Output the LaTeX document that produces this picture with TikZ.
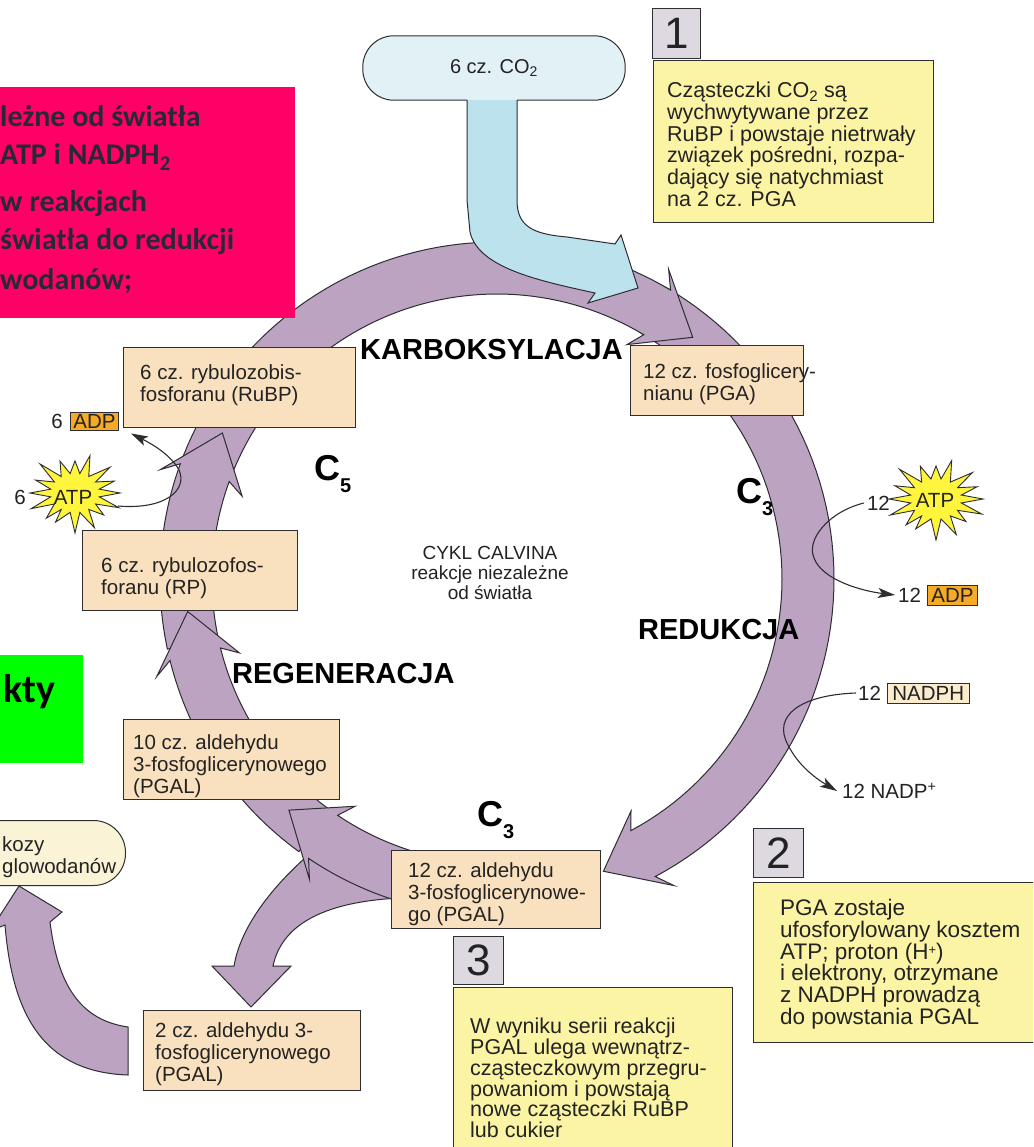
\documentclass[tikz,border=0pt]{standalone}
\usepackage{fontspec}
\setmainfont{Liberation Sans}
\newfontfamily\calib{Carlito}
\usetikzlibrary{arrows.meta}
\definecolor{ringc}{RGB}{188,163,194}
\definecolor{linec}{RGB}{45,45,50}
\definecolor{boxc}{RGB}{249,224,190}
\definecolor{yelc}{RGB}{251,244,165}
\definecolor{numc}{RGB}{222,216,224}
\definecolor{pinkc}{RGB}{255,0,102}
\definecolor{pinktxt}{RGB}{38,42,52}
\definecolor{greenc}{RGB}{0,255,0}
\definecolor{pillc}{RGB}{226,241,245}
\definecolor{stemc}{RGB}{188,226,238}
\definecolor{adpc}{RGB}{245,170,40}
\definecolor{nadphc}{RGB}{250,236,205}
\definecolor{glukc}{RGB}{250,243,214}
\definecolor{starc}{RGB}{255,245,60}
\definecolor{txtc}{RGB}{35,35,35}

% ring segment: start angle, arrow base angle, tip angle (clockwise on screen)
\newcommand\ringseg[3]{%
  \filldraw[ringsty]
    plot[domain=#1:#2,samples=60] ({497+337*cos(\x)},{579+337*sin(\x)})
    -- ({497+354*cos(#2-2)},{579+354*sin(#2-2)})
    -- ({497+311*cos(#3)},{579+311*sin(#3)})
    -- ({497+268*cos(#2-2)},{579+268*sin(#2-2)})
    -- plot[domain=#2:#1,samples=60] ({497+285*cos(\x)},{579+285*sin(\x)})
    -- cycle;}
% spiky star: cx, cy, rx, ry
\newcommand\spiky[4]{%
  \filldraw[starsty] plot[samples at={0,11.25,...,348.75}]
   ({#1+#3*(mod(round(\x/11.25),2)==0 ? 1+0.14*sin(7*\x) : 0.55)*cos(\x)},
    {#2+#4*(mod(round(\x/11.25),2)==0 ? 1+0.14*sin(5*\x+40) : 0.55)*sin(\x)}) -- cycle;}
\newcommand\lowsup[1]{\raisebox{5pt}{\fontsize{13}{13}\selectfont #1}}

\begin{document}
\begin{tikzpicture}[x=1pt,y=-1pt,
 ringsty/.style={fill=ringc,draw=linec,line width=1pt},
 bluesty/.style={fill=stemc,draw=linec,line width=1pt},
 pbox/.style={draw=linec,line width=1pt,fill=boxc,inner sep=0pt,anchor=north west},
 ybox/.style={draw=linec,line width=1pt,fill=yelc,inner sep=0pt,anchor=north west},
 nbox/.style={draw=linec,line width=1pt,fill=numc,inner sep=0pt,anchor=north west,font=\fontsize{44}{44}\selectfont,text=txtc},
 ptext/.style={anchor=north west,inner sep=0pt,align=left,text=txtc,font=\fontsize{20.5}{22}\selectfont},
 bold/.style={anchor=base west,inner sep=0pt,text=black,font=\bfseries\fontsize{29}{29}\selectfont},
 small/.style={inner sep=0pt,text=txtc,font=\fontsize{20.5}{22}\selectfont},
 thinarr/.style={draw=linec,line width=1.1pt,-{Stealth[length=17pt,width=10pt,inset=4pt]}},
 pinktx/.style={anchor=base west,inner sep=0pt,text=pinktxt,font=\calib\bfseries\fontsize{30}{30}\selectfont},
 bigc/.style={anchor=base west,inner sep=0pt,text=black,font=\bfseries\fontsize{36}{36}\selectfont},
 starsty/.style={fill=starc,draw=linec,line width=0.9pt,line join=miter}]
\useasboundingbox (0,0) rectangle (1033,1147);
\clip (0,0) rectangle (1033,1147);
\fill[white] (0,0) rectangle (1033,1147);

% ---- Calvin ring ----
\ringseg{300}{422}{430}
\ringseg{200}{301}{309}
\ringseg{168}{200}{208}
\ringseg{126}{166}{174}
% branch towards 2 cz. PGAL
\filldraw[ringsty] (400,862) -- (320,845) .. controls (268,888) and (240,930) .. (234,966)
  -- (212,966) -- (251,1007) -- (291,966) -- (273,966)
  .. controls (281,928) and (318,902) .. (400,898) -- cycle;
\ringseg{98}{124}{132}
% arrow from 2 cz. PGAL to sugars
\filldraw[ringsty] (128,1027) .. controls (80,1020) and (58,985) .. (50,922)
  -- (62,912) -- (19,886) -- (-10,931) -- (5,925)
  .. controls (12,1010) and (40,1072) .. (128,1075) -- cycle;

% ---- CO2 input ----
\filldraw[bluesty] (517,100) -- (517,200) .. controls (517,226) and (532,234) .. (567,237)
  -- (615,244) -- (621,235) -- (638,288) -- (588,303) -- (595,293)
  .. controls (540,281) and (478,268) .. (470,232) -- (467,200) -- (467,100);
\node[fill=pillc,rounded corners=31pt,minimum width=262pt,minimum height=64pt,inner sep=0pt,
      text=txtc,font=\fontsize{20}{20}\selectfont] (co2) at (494,68) {6 cz. CO\textsubscript{2}};
\draw[draw=linec,line width=1pt,rounded corners=31pt] ([xshift=-27pt]co2.south) -- (co2.south west)
  -- (co2.north west) -- (co2.north east) -- (co2.south east) -- ([xshift=23pt]co2.south);

% ---- overlay boxes (pink / green) ----
\node[fill=pinkc,inner sep=0pt,anchor=north west,minimum width=300pt,minimum height=231pt] (pink) at (-5,87) {};
\node[pinktx] (p1) at (0,127) {leżne od światła};
\node[pinktx] (p2) at (0,165) {ATP i NADPH\textsubscript{2}};
\node[pinktx] (p3) at (0,212) {w reakcjach};
\node[pinktx] (p4) at (0,250) {światła do redukcji};
\node[pinktx] (p5) at (0,290) {wodanów;};
\node[fill=greenc,inner sep=0pt,anchor=north west,minimum width=88pt,minimum height=108pt] (green) at (-5,655) {};
\node[anchor=base west,inner sep=0pt,font=\calib\bfseries\fontsize{40}{40}\selectfont] (kty) at (3,702) {kty};

% ---- compound boxes ----
\node[pbox,minimum width=232pt,minimum height=80pt] (rubp) at (123,347) {};
\node[ptext] (rubpt) at ([shift={(17,17)}]rubp.north west) {6 cz. rybulozobis-\\fosforanu (RuBP)};
\node[pbox,minimum width=215pt,minimum height=80pt] (rp) at (82,530) {};
\node[ptext] (rpt) at ([shift={(19,27)}]rp.north west) {6 cz. rybulozofos-\\foranu (RP)};
\node[pbox,minimum width=173pt,minimum height=70pt] (pga) at (630,345) {};
\node[ptext] (pgat) at ([shift={(13,18)}]pga.north west) {12 cz. fosfoglicery-\\nianu (PGA)};
\node[pbox,minimum width=216pt,minimum height=80pt] (pgal10) at (123,719) {};
\node[ptext] (pgal10t) at ([shift={(10,15)}]pgal10.north west) {10 cz. aldehydu\\3-fosfoglicerynowego\\(PGAL)};
\node[pbox,minimum width=209pt,minimum height=78pt] (pgal12) at (391,850) {};
\node[ptext] (pgal12t) at ([shift={(17,12)}]pgal12.north west) {12 cz. aldehydu\\3-fosfoglicerynowe-\\go (PGAL)};
\node[pbox,minimum width=217pt,minimum height=80pt] (pgal2) at (143,1010) {};
\node[ptext] (pgal2t) at ([shift={(12,12)}]pgal2.north west) {2 cz. aldehydu 3-\\fosfoglicerynowego\\(PGAL)};
\node[draw=linec,line width=1pt,fill=glukc,rounded corners=32pt,minimum width=220pt,minimum height=65pt,inner sep=0pt,anchor=north east] (gluk) at (126,820) {};
\node[ptext] (glukt) at (2,836) {kozy\\glowodanów};

% ---- description boxes ----
\node[nbox,minimum width=48pt,minimum height=50pt] (n1) at (652,8) {1};
\node[ybox,minimum width=280pt,minimum height=162pt] (d1) at (653,60) {};
\node[ptext,font=\fontsize{21.5}{21.7}\selectfont] (d1t) at ([shift={(14,22)}]d1.north west)
  {Cząsteczki CO\smash{\textsubscript{2}} są\\wychwytywane przez\\RuBP i powstaje nietrwały\\związek pośredni, rozpa-\\dający się natychmiast\\na 2 cz. PGA};
\node[nbox,minimum width=50pt,minimum height=49pt] (n2) at (753,828) {2};
\node[ybox,minimum width=320pt,minimum height=160pt] (d2) at (753,882) {};
\node[ptext,font=\fontsize{22.5}{21.8}\selectfont] (d2t) at ([shift={(27,17)}]d2.north west)
  {PGA zostaje\\ufosforylowany kosztem\\ATP; proton (H\lowsup{+})\\i elektrony, otrzymane\\z NADPH prowadzą\\do powstania PGAL};
\node[nbox,minimum width=50pt,minimum height=48pt] (n3) at (453,936) {3};
\node[ybox,minimum width=279pt,minimum height=190pt] (d3) at (453,987) {};
\node[ptext,font=\fontsize{21.5}{20.8}\selectfont] (d3t) at ([shift={(17,31)}]d3.north west)
  {W wyniku serii reakcji\\PGAL ulega wewnątrz-\\cząsteczkowym przegru-\\powaniom i powstają\\nowe cząsteczki RuBP\\lub cukier};

% ---- centre and phase labels ----
\node[align=center,inner sep=0pt,text=txtc,font=\fontsize{19}{20}\selectfont] (title) at (490,573)
  {CYKL CALVINA\\reakcje niezależne\\od światła};
\node[bold] (karb) at (360,359) {KARBOKSYLACJA};
\node[bold] (redu) at (638,639) {REDUKCJA};
\node[bold] (rege) at (232,683) {REGENERACJA};
\node[bigc] (c5) at (314,480) {C\raisebox{-12pt}{\fontsize{20}{20}\selectfont 5}};
\node[bigc] (c3a) at (736,503) {C\raisebox{-12pt}{\fontsize{20}{20}\selectfont 3}};
\node[bigc] (c3b) at (477,826) {C\raisebox{-12pt}{\fontsize{20}{20}\selectfont 3}};

% ---- right side: ATP / NADPH ----
\spiky{936}{499}{47}{37}
\node[small] (atpr) at (935,500) {ATP};
\node[small,anchor=east] (n12a) at (890,503) {12};
\node[small,anchor=west] (n12d) at (898,595) {12};
\node[small,draw=linec,line width=0.8pt,fill=adpc,inner xsep=4pt,inner ysep=3pt,anchor=west] (adpr) at (927,595) {ADP};
\node[small,anchor=west] (n12n) at (858,693) {12};
\node[small,draw=linec,line width=0.8pt,fill=nadphc,inner xsep=5pt,inner ysep=3pt,anchor=west] (nadph) at (887,693) {NADPH};
\node[small,anchor=west] (nadp) at (842,791) {12 NADP\textsuperscript{+}};
\draw[thinarr] ([xshift=-3pt]n12a.west) .. controls (828,512) and (806,540) .. (814,558)
  .. controls (822,580) and (862,591) .. ([xshift=-3pt]n12d.west);
\draw[thinarr] ([xshift=-2pt]n12n.west) .. controls (800,695) and (772,716) .. (788,745)
  .. controls (798,765) and (815,778) .. ([xshift=-5pt]nadp.west);

% ---- left side: ATP / ADP ----
\spiky{75}{493}{45}{36}
\node[small] (atpl) at (73,497) {ATP};
\node[small] (n6a) at (20,497) {6};
\node[small] (n6d) at (57,421) {6};
\node[small,draw=linec,line width=0.8pt,fill=adpc,inner xsep=3pt,inner ysep=2pt,anchor=west] (adpl) at (70,421) {ADP};
\coordinate (lsa) at (118,506);
\draw[thinarr] (lsa) .. controls (165,510) and (188,490) .. (179,470)
  .. controls (171,455) and (152,444) .. ([shift={(12,3)}]adpl.south east);
\end{tikzpicture}
\end{document}
